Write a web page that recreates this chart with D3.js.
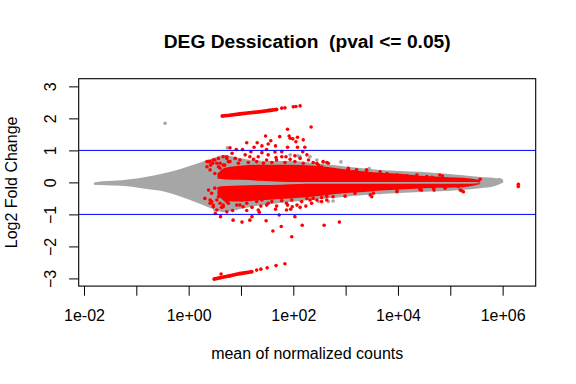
<!DOCTYPE html>
<html>
<head>
<meta charset="utf-8">
<script src="https://cdnjs.cloudflare.com/ajax/libs/d3/7.8.5/d3.min.js"></script>
<style>
  body { margin: 0; background: #fff; }
  svg { display: block; font-family: "Liberation Sans", Arial, sans-serif; }
</style>
</head>
<body>
<div id="chart"></div>
<script>

const width = 576;
const height = 384;
const margin = {top: 78.7, right: 40.3, bottom: 97.9, left: 78.7};

// values are log10(mean of normalized counts) and log2 fold change

// not significant genes, dense fan (envelope)
const grayLogMean = [-1.81, -1.69, -1.45, -1.12, -0.80, -0.49, -0.17, 0.15, 0.35, 0.50, 0.66, 0.89, 1.17, 1.55, 1.94, 2.51, 3.08, 3.66, 4.42, 5.19, 5.57, 5.85, 6.01];
const grayLfcHigh = [0.00, 0.03, 0.05, 0.10, 0.18, 0.28, 0.41, 0.58, 0.70, 0.78, 0.86, 0.79, 0.70, 0.67, 0.67, 0.58, 0.48, 0.39, 0.33, 0.23, 0.17, 0.14, 0.09];
const grayLfcLow = [-0.07, -0.08, -0.10, -0.13, -0.21, -0.28, -0.43, -0.63, -0.76, -0.85, -0.93, -0.86, -0.77, -0.68, -0.61, -0.52, -0.43, -0.36, -0.30, -0.24, -0.18, -0.11, 0.00];

// significant genes, dense band (envelope, split around lfc 0)
const redLogMean = [0.55, 0.70, 0.98, 1.36, 1.75, 2.13, 2.41, 2.89, 3.27, 3.66, 4.04, 4.42, 4.80, 5.09, 5.38, 5.57];
const redTop = [0.28, 0.46, 0.52, 0.55, 0.55, 0.54, 0.52, 0.43, 0.36, 0.30, 0.27, 0.21, 0.18, 0.15, 0.12, 0.07];
const redGapTop = [0.12, 0.09, 0.08, 0.05, 0.02, 0.01, 0.01, 0.01, 0.01, 0.01, 0.01, 0.01, 0.01, 0.01, 0.01, 0.00];
const redGapBottom = [-0.14, -0.11, -0.10, -0.08, -0.07, -0.05, -0.04, -0.04, -0.04, -0.04, -0.04, -0.04, -0.04, -0.04, -0.04, -0.03];
const redBottom = [-0.38, -0.58, -0.60, -0.56, -0.52, -0.48, -0.44, -0.35, -0.31, -0.25, -0.22, -0.19, -0.17, -0.16, -0.12, -0.05];

// scattered significant genes
const sigPoints = [
  [2.34,1.73],[1.89,1.66],[1.47,1.45],[1.74,1.43],[1.92,1.45],[1.99,1.36],[2.08,1.41],[2.05,1.27],
  [1.57,1.30],[1.52,1.20],[1.66,1.14],[1.11,1.24],[1.31,1.24],[1.40,1.14],[1.25,1.10],[0.91,1.03],
  [1.03,1.03],[1.19,0.96],[1.40,0.93],[1.49,1.03],[1.65,0.95],[1.78,0.96],[1.89,1.10],[2.08,1.10],
  [2.22,1.10],[0.83,0.91],[0.66,0.80],[0.73,0.75],[1.17,0.80],[1.52,0.86],[1.67,0.78],[1.86,0.80],
  [2.03,0.83],[2.26,0.86],[2.57,0.65],[2.67,0.60],[0.41,0.65],[0.46,0.60],[0.60,0.60],[0.98,0.70],
  [1.30,0.65],[1.94,1.38],[0.79,1.08],[2.18,0.96],[2.19,1.33],[2.45,0.60],[3.05,0.41],[3.15,0.33],
  [3.40,0.39],[3.66,0.33],[3.94,0.20],[4.29,0.18],[4.65,0.16],[4.85,0.20],[4.99,0.08],[5.57,0.10],
  [0.38,0.65],[0.42,0.54],[0.47,0.70],[0.54,0.60],[0.60,0.44],[0.66,0.54],[0.73,0.80],[0.76,0.65],
  [0.41,0.39],[0.50,0.28],[0.63,0.23],[0.73,0.33],[0.35,0.49],[0.57,0.75],
  [0.38,-0.24],[0.44,-0.34],[0.50,-0.18],[0.57,-0.45],[0.63,-0.29],[0.70,-0.55],[0.76,-0.39],
  [0.41,-0.55],[0.47,-0.71],[0.54,-0.86],[0.66,-0.76],[0.73,-0.92],[0.60,-0.65],
  [1.97,-1.70],[1.61,-1.52],[1.77,-1.38],[2.59,-1.34],[1.48,-1.20],[1.17,-1.18],[0.85,-1.18],
  [1.21,-1.07],[0.61,-1.07],[0.51,-0.97],[1.11,-0.88],[1.33,-0.86],[1.66,-0.84],[1.87,-0.86],
  [1.95,-0.84],[2.13,-0.78],[2.32,-0.55],[2.38,-0.50],[2.54,-0.60],[2.64,-0.55],[0.98,-0.71],
  [1.04,-0.76],[0.66,-0.71],[0.76,-0.65],[0.44,-0.60],[0.47,-0.76],[1.52,-0.65],[1.38,-0.74],
  [0.84,-0.88],[2.17,-1.34],[2.03,-1.07],[1.02,-1.24],[1.35,-0.93],[1.73,-1.02],[2.88,-1.24],
  [1.89,-0.71],[1.98,-0.76],[2.24,-0.74],[2.99,-0.43],[3.18,-0.34],[3.47,-0.39],[3.50,-0.45],
  [3.98,-0.29],[4.45,-0.24],[4.69,-0.24],[4.90,-0.18],[5.15,-0.13],[5.22,-0.26],[6.30,-0.06],
  [6.30,-0.13],[0.62,-2.86]
];

// significant genes along the edges of the dense band
const sigBandEdge = [
  [0.35,0.65],[0.50,0.70],[0.57,0.49],[0.69,0.54],[0.79,0.65],[0.89,0.75],[0.95,0.60],[1.08,0.86],
  [1.14,0.62],[1.24,0.72],[1.33,0.80],[1.43,0.60],[1.49,0.70],[1.59,0.62],[1.68,0.70],[1.78,0.80],
  [1.84,0.62],[1.94,0.72],[2.03,0.65],[2.13,0.75],[2.19,0.60],[2.29,0.70],[2.38,0.62],[2.48,0.54],
  [2.54,0.49],[2.64,0.62],[3.05,0.44],[3.21,0.39],[3.40,0.37],[3.47,0.28],[3.79,0.28],[3.98,0.23],
  [4.17,0.20],[4.36,0.23],[4.55,0.18],[4.80,0.23],
  [0.31,-0.50],[0.41,-0.65],[0.54,-0.55],[0.63,-0.78],[0.73,-0.60],[0.82,-0.50],[0.92,-0.71],
  [1.01,-0.55],[1.11,-0.65],[1.21,-0.78],[1.30,-0.60],[1.40,-0.55],[1.49,-0.71],[1.59,-0.60],
  [1.68,-0.74],[1.78,-0.57],[1.87,-0.65],[1.97,-0.55],[2.07,-0.71],[2.16,-0.60],[2.26,-0.50],
  [2.35,-0.65],[2.45,-0.55],[2.54,-0.47],[2.64,-0.43],[2.51,-0.34],[2.76,-0.45],[2.89,-0.29],
  [3.08,-0.24],[3.53,-0.34],[3.98,-0.26],[4.42,-0.22],[4.68,-0.18],[5.19,-0.24],[5.25,-0.29]
];

// scattered not significant genes
const nsPoints = [
  [-0.45,1.85],[0.74,1.08],[2.09,0.83],[2.13,0.80],[2.29,0.49],[2.91,0.64],[2.57,0.62],[3.45,0.43],
  [2.67,-0.60],[2.76,-0.58],[2.13,-0.55],[3.66,-0.32],[5.31,-0.08],[5.57,0.08],[5.82,0.02],
  [5.92,0.08],[5.25,0.16],[5.95,0.08],[1.94,0.86],[2.32,0.80],[2.45,0.70],[0.50,-0.86],
  [0.92,-0.81],[2.48,-0.60]
];

// genes with zero counts in one group
const upLine = [[0.645,2.075],[0.79,2.10],[0.98,2.14],[1.17,2.175],[1.36,2.21],[1.55,2.25],[1.68,2.28],[1.78,2.32],[1.84,2.33],[2.00,2.36],[2.05,2.37],[2.13,2.39]];
const downLine = [[0.49,-3.02],[0.60,-2.98],[0.79,-2.92],[0.98,-2.85],[1.205,-2.79],[1.30,-2.74],[1.38,-2.71],[1.50,-2.67],[1.67,-2.60],[1.84,-2.54]];
const upDense = 7;
const downDense = 5;

const xTickValues = [1e-2, 1e-1, 1e0, 1e1, 1e2, 1e3, 1e4, 1e5, 1e6];
const xTickLabels = ["1e-02", "", "1e+00", "", "1e+02", "", "1e+04", "", "1e+06"];
const yTickValues = [-3, -2, -1, 0, 1, 2, 3];
const cutoffs = [-1, 1];

const gray = "#a6a6a6";
const red = "#ff0000";

// SCALES

const x = d3.scaleLog()
    .domain([10 ** -2.101, 10 ** 6.632])
    .range([margin.left, width - margin.right]);

const y = d3.scaleLinear()
    .domain([-3.24, 3.24])
    .range([height - margin.bottom, margin.top]);

const px = v => x(10 ** v);

// SVG

const svg = d3.select("#chart")
    .append("svg")
    .attr("width", width)
    .attr("height", height);

const plot = svg.append("g");

// dense gray fan
const grayEnv = grayLogMean.map((v, i) => ({m: v, lo: grayLfcLow[i], hi: grayLfcHigh[i]}));
plot.append("path")
    .datum(grayEnv)
    .attr("fill", gray)
    .attr("d", d3.area()
        .curve(d3.curveMonotoneX)
        .x(d => px(d.m))
        .y0(d => y(d.lo))
        .y1(d => y(d.hi)));

plot.selectAll(".ns")
    .data(nsPoints)
    .enter()
    .append("circle")
        .attr("class", "ns")
        .attr("cx", d => px(d[0]))
        .attr("cy", d => y(d[1]))
        .attr("r", 1.8)
        .attr("fill", gray);

// dense red band
const redEnv = redLogMean.map((v, i) => ({m: v, top: redTop[i], gt: redGapTop[i], gb: redGapBottom[i], bot: redBottom[i]}));
plot.append("path")
    .datum(redEnv)
    .attr("fill", red)
    .attr("d", d3.area()
        .curve(d3.curveMonotoneX)
        .x(d => px(d.m))
        .y0(d => y(d.gt))
        .y1(d => y(d.top)));
plot.append("path")
    .datum(redEnv)
    .attr("fill", red)
    .attr("d", d3.area()
        .curve(d3.curveMonotoneX)
        .x(d => px(d.m))
        .y0(d => y(d.bot))
        .y1(d => y(d.gb)));

plot.selectAll(".sig")
    .data(sigPoints.concat(sigBandEdge, upLine, downLine))
    .enter()
    .append("circle")
        .attr("class", "sig")
        .attr("cx", d => px(d[0]))
        .attr("cy", d => y(d[1]))
        .attr("r", 1.8)
        .attr("fill", red);

const lineGen = d3.line()
    .x(d => px(d[0]))
    .y(d => y(d[1]));

[upLine.slice(0, upDense), downLine.slice(0, downDense)].forEach(seg => {
    plot.append("path")
        .datum(seg)
        .attr("fill", "none")
        .attr("stroke", red)
        .attr("stroke-width", 3.6)
        .attr("stroke-linecap", "round")
        .attr("d", lineGen);
});

// cutoff lines
plot.selectAll(".cut")
    .data(cutoffs)
    .enter()
    .append("line")
        .attr("x1", margin.left)
        .attr("x2", width - margin.right)
        .attr("y1", d => y(d))
        .attr("y2", d => y(d))
        .attr("stroke", "#0000ff")
        .attr("stroke-width", 1);

// AXES

const xAxis = d3.axisBottom(x)
    .tickValues(xTickValues)
    .tickFormat((d, i) => xTickLabels[i])
    .tickSize(9.6)
    .tickSizeOuter(0);

const gx = svg.append("g")
    .attr("transform", "translate(0," + (height - margin.bottom) + ")")
    .call(xAxis);
gx.select(".domain").remove();
gx.selectAll("text")
    .attr("dy", null)
    .attr("y", 34.6)
    .attr("fill", "#000")
    .style("font-size", "16px")
    .style("font-family", "'Liberation Sans', Arial, sans-serif");

const yAxis = d3.axisLeft(y)
    .tickValues(yTickValues)
    .tickFormat(d3.format("d"))
    .tickSize(9.6)
    .tickSizeOuter(0);

const gy = svg.append("g")
    .attr("transform", "translate(" + margin.left + ",0)")
    .call(yAxis);
gy.select(".domain").remove();
gy.selectAll("text")
    .attr("x", null)
    .attr("dy", null)
    .attr("text-anchor", "middle")
    .attr("transform", "translate(-23,0) rotate(-90)")
    .attr("fill", "#000")
    .style("font-size", "16px")
    .style("font-family", "'Liberation Sans', Arial, sans-serif");

svg.selectAll(".tick line").attr("stroke", "#000");

// box
svg.append("rect")
    .attr("x", margin.left)
    .attr("y", margin.top)
    .attr("width", width - margin.left - margin.right)
    .attr("height", height - margin.top - margin.bottom)
    .attr("fill", "none")
    .attr("stroke", "#000")
    .attr("stroke-width", 1.1);

// TITLES

const cx = (margin.left + width - margin.right) / 2;

svg.append("text")
    .attr("x", cx)
    .attr("y", 48.3)
    .attr("text-anchor", "middle")
    .style("white-space", "pre")
    .style("font-size", "19.2px")
    .style("font-weight", "bold")
    .text("DEG Dessication  (pval <= 0.05)");

svg.append("text")
    .attr("x", cx)
    .attr("y", 359)
    .attr("text-anchor", "middle")
    .style("font-size", "16px")
    .text("mean of normalized counts");

svg.append("text")
    .attr("transform", "translate(17.3," + ((margin.top + height - margin.bottom) / 2) + ") rotate(-90)")
    .attr("text-anchor", "middle")
    .style("font-size", "16px")
    .text("Log2 Fold Change");

</script>
</body>
</html>
